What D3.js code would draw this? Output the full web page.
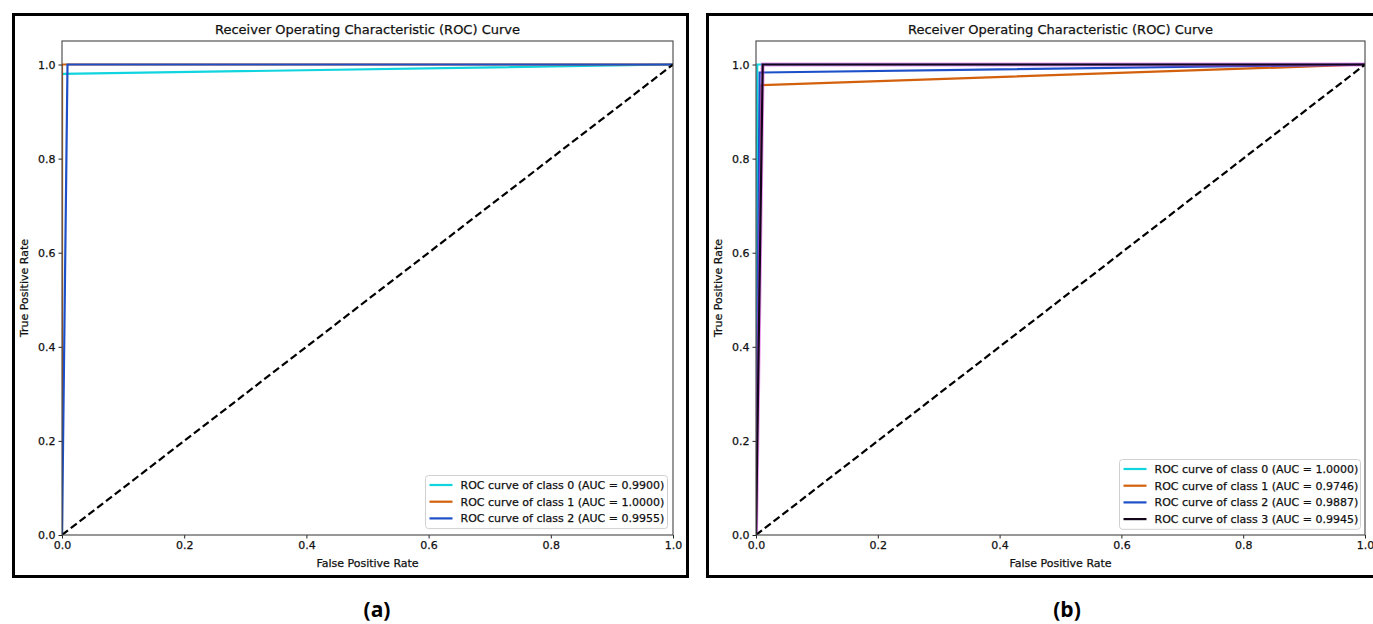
<!DOCTYPE html>
<html>
<head>
<meta charset="utf-8">
<script src="https://cdn.jsdelivr.net/npm/d3@7"></script>
<style>
  html, body { margin: 0; padding: 0; background: #fff; }
  svg { display: block; }
</style>
</head>
<body>
<svg id="chart" width="1373" height="624"></svg>
<script>
// ---------------- DATA ----------------
const title = "Receiver Operating Characteristic (ROC) Curve";
const xLabel = "False Positive Rate";
const yLabel = "True Positive Rate";
const xTicks = [0.0, 0.2, 0.4, 0.6, 0.8, 1.0];
const yTicks = [0.0, 0.2, 0.4, 0.6, 0.8, 1.0];
const chanceLine = [[0, 0], [1, 1]];

// Panel (a): 3 classes
const classesA = [0, 1, 2];
const aucA = [0.9900, 1.0000, 0.9955];
const curvesA = [
  [[0, 0], [0, 0.98], [1, 1]],
  [[0, 0], [0, 1.0], [1, 1]],
  [[0, 0], [0.009, 1.0], [1, 1]]
];

// Panel (b): 4 classes
const classesB = [0, 1, 2, 3];
const aucB = [1.0000, 0.9746, 0.9887, 0.9945];
const curvesB = [
  [[0, 0], [0.002, 1.0], [1, 1]],
  [[0, 0], [0.007, 0.956], [1, 1]],
  [[0, 0], [0.006, 0.983], [1, 1]],
  [[0, 0], [0.011, 1.0], [1, 1]]
];

const colorsA = ["#10d4de", "#d2600c", "#1c4fc8"];
const colorsB = ["#10d4de", "#d2600c", "#1c4fc8", "#14061a"];
const captions = ["(a)", "(b)"];

// ---------------- DRAW ----------------
const svg = d3.select("#chart");
const FONT = "DejaVu Sans, sans-serif";

function styleText(sel, size) {
  return sel.attr("font-family", FONT).attr("font-size", size).attr("fill", "#111")
    .attr("stroke", "#111").attr("stroke-width", 0.25);
}

function drawPanel(opt) {
  const g = svg.append("g");
  // outer frame
  g.append("rect")
    .attr("x", opt.frame[0]).attr("y", opt.frame[1])
    .attr("width", opt.frame[2]).attr("height", opt.frame[3])
    .attr("fill", "none").attr("stroke", "#000").attr("stroke-width", 3);

  const x = d3.scaleLinear().domain([0, 1]).range([opt.left, opt.right]);
  const y = d3.scaleLinear().domain([0, 1.05]).range([opt.bottom, opt.top]);

  const clipId = "clip" + opt.id;
  svg.append("defs").append("clipPath").attr("id", clipId)
    .append("rect").attr("x", opt.left).attr("y", opt.top)
    .attr("width", opt.right - opt.left).attr("height", opt.bottom - opt.top);

  const line = d3.line().x(d => x(d[0])).y(d => y(d[1]));
  const plot = g.append("g").attr("clip-path", `url(#${clipId})`);

  opt.curves.forEach((c, i) => {
    if (opt.halo && i === opt.curves.length - 1) {
      plot.append("path").datum(c).attr("d", line)
        .attr("fill", "none").attr("stroke", "#e040e8").attr("stroke-width", 4)
        .attr("stroke-opacity", 0.55);
    }
    plot.append("path").datum(c).attr("d", line)
      .attr("fill", "none").attr("stroke", opt.colors[i]).attr("stroke-width", 2.2);
  });

  plot.append("path").datum(chanceLine).attr("d", line)
    .attr("fill", "none").attr("stroke", "#000").attr("stroke-width", 2.2)
    .attr("stroke-dasharray", "7.5,3.6");

  // axes
  const xAxis = d3.axisBottom(x).tickValues(xTicks).tickFormat(d3.format(".1f"))
    .tickSize(3.5).tickPadding(3);
  const yAxis = d3.axisLeft(y).tickValues(yTicks).tickFormat(d3.format(".1f"))
    .tickSize(3.5).tickPadding(3);
  const gx = g.append("g").attr("transform", `translate(0,${opt.bottom})`).call(xAxis);
  const gy = g.append("g").attr("transform", `translate(${opt.left},0)`).call(yAxis);
  [gx, gy].forEach(a => {
    a.select(".domain").remove();
    a.selectAll("line").attr("stroke", "#222").attr("stroke-width", 1);
    styleText(a.selectAll("text"), 11);
  });

  // spines
  g.append("rect")
    .attr("x", opt.left).attr("y", opt.top)
    .attr("width", opt.right - opt.left).attr("height", opt.bottom - opt.top)
    .attr("fill", "none").attr("stroke", "#444").attr("stroke-width", 1.1);

  // title and labels
  const cx = (opt.left + opt.right) / 2;
  styleText(g.append("text").attr("x", cx).attr("y", 34).attr("text-anchor", "middle"), 13).text(title);
  styleText(g.append("text").attr("x", cx).attr("y", opt.bottom + 32).attr("text-anchor", "middle"), 11).text(xLabel);
  styleText(g.append("text")
    .attr("transform", `translate(${opt.left - 34},${(opt.top + opt.bottom) / 2}) rotate(-90)`)
    .attr("text-anchor", "middle"), 11).text(yLabel);

  // legend
  const n = opt.classes.length;
  const lg = g.append("g");
  const rowH = 16.7;
  lg.append("rect")
    .attr("x", opt.legend[0]).attr("y", opt.legend[1])
    .attr("width", opt.legend[2]).attr("height", n * rowH + 3)
    .attr("rx", 3).attr("fill", "#fff").attr("fill-opacity", 0.85)
    .attr("stroke", "#d0d0d0").attr("stroke-width", 1);
  opt.classes.forEach((c, i) => {
    const yy = opt.legend[1] + 9.5 + i * rowH;
    lg.append("line")
      .attr("x1", opt.legend[0] + 4).attr("x2", opt.legend[0] + 27)
      .attr("y1", yy).attr("y2", yy)
      .attr("stroke", opt.colors[i]).attr("stroke-width", 2.2);
    styleText(lg.append("text").attr("x", opt.legend[0] + 35).attr("y", yy + 4), 11)
      .text(`ROC curve of class ${c} (AUC = ${opt.auc[i].toFixed(4)})`);
  });

  // caption
  g.append("text").attr("x", opt.captionX).attr("y", 617).attr("text-anchor", "middle")
    .attr("font-family", "Open Sans, Liberation Sans, sans-serif").attr("font-weight", "bold")
    .attr("font-size", 21).attr("fill", "#000").text(opt.caption);
}

drawPanel({
  id: "a", frame: [13.5, 14.5, 674, 562],
  left: 62, right: 673, top: 41, bottom: 535,
  curves: curvesA, colors: colorsA, classes: classesA, auc: aucA,
  legend: [425.5, 475.5, 242], caption: captions[0], captionX: 377, halo: false
});

drawPanel({
  id: "b", frame: [707.5, 14.5, 680, 562],
  left: 756, right: 1365, top: 41, bottom: 535,
  curves: curvesB, colors: colorsB, classes: classesB, auc: aucB,
  legend: [1119.5, 459.5, 241], caption: captions[1], captionX: 1067, halo: true
});
</script>
</body>
</html>
